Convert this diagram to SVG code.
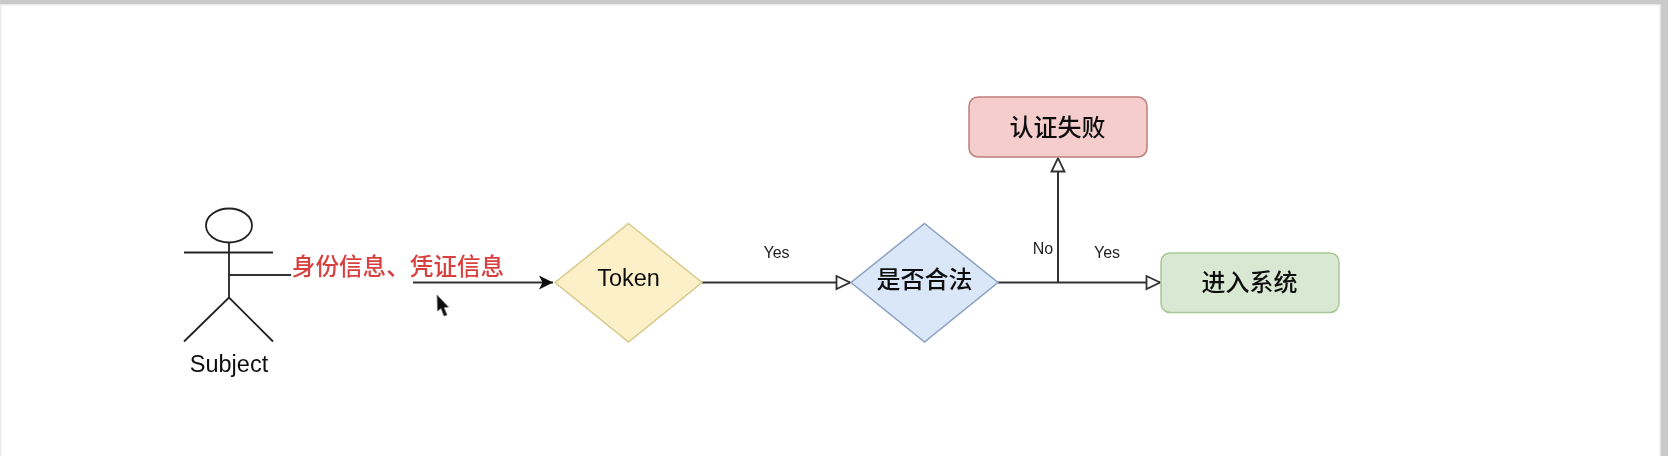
<svg xmlns="http://www.w3.org/2000/svg" width="1668" height="456" viewBox="0 0 1668 456">
  <style>
    text { font-family: "Liberation Sans", "Noto Sans CJK SC", sans-serif; text-anchor: middle; dominant-baseline: central; fill: #111; }
    .cjk { font-family: "Noto Sans CJK SC", "Liberation Sans", sans-serif; font-size: 24px; font-weight: 500; }
    .lbl { font-size: 16px; fill: #222; }
    .edge { fill: none; stroke: #333; stroke-width: 2; }
    .actor { fill: none; stroke: #222; stroke-width: 1.8; }
  </style>
  <defs>
    <filter id="soft" x="-5%" y="-5%" width="110%" height="110%"><feGaussianBlur stdDeviation="0.6"/></filter>
    <marker id="open" markerUnits="userSpaceOnUse" markerWidth="18" markerHeight="18" refX="15" refY="8" orient="auto">
      <path d="M1.500 1.500 L15 8 L1.500 14.500 Z" fill="#fff" stroke="#333" stroke-width="1.800"/>
    </marker>
    <marker id="solid" markerUnits="userSpaceOnUse" markerWidth="18" markerHeight="18" refX="15" refY="9" orient="auto">
      <path d="M1 2 L15 9 L1 16 L4.500 9 Z" fill="#111"/>
    </marker>
  </defs>
  <rect width="1668" height="456" fill="#fff"/>
  <path d="M0 0H1668V456H1661V4.500H0Z" fill="#c9c9c9"/>
  <path d="M0 4.500H1.500V456H0Z" fill="#ececec"/>
  <path d="M0 4.500H1661V5.500H0Z" fill="#ececec"/>
  <path d="M1659.500 5H1661V456H1659.500Z" fill="#e6e6e6"/>
  <g filter="url(#soft)">
    <g id="connectors">
      <path class="edge" d="M413 282.500H553" marker-end="url(#solid)"/>
      <path class="edge" d="M702 282.500H850" marker-end="url(#open)"/>
      <path class="edge" d="M998 282.500H1160" marker-end="url(#open)"/>
      <path class="edge" d="M1058 282.500V158" marker-end="url(#open)"/>
      <path class="edge" d="M229 275H291"/>
      <text class="lbl" x="776.500" y="252.500">Yes</text>
      <text class="lbl" x="1043" y="248">No</text>
      <text class="lbl" x="1107" y="252.500">Yes</text>
    </g>
    <g id="subject">
      <ellipse class="actor" cx="229" cy="225.500" rx="23" ry="17"/>
      <path class="actor" d="M229 242.500V297.500M184 252.500H273M184 341.500L229 297.500L273 341.500"/>
      <text x="229" y="364" font-size="23.500">Subject</text>
    </g>
    <g id="edge-label">
      <text class="cjk" x="398" y="265" style="font-size:23.600px;fill:#d8403f">身份信息、凭证信息</text>
    </g>
    <g id="token">
      <polygon points="628.500,223.500 702,282.500 628.500,342 555,282.500" fill="#fbf0c8" stroke="#d8c98a" stroke-width="1.500"/>
      <text x="628.500" y="278" font-size="23.500">Token</text>
    </g>
    <g id="check">
      <polygon points="924.500,223.500 998,282.500 924.500,342 851,282.500" fill="#dae7f8" stroke="#8aa1c2" stroke-width="1.500"/>
      <text class="cjk" x="924.500" y="277">是否合法</text>
    </g>
    <g id="fail">
      <rect x="969" y="97" width="178" height="60" rx="9" fill="#f4cdcc" stroke="#bf7f7c" stroke-width="1.500"/>
      <text class="cjk" x="1057.500" y="125">认证失败</text>
    </g>
    <g id="enter">
      <rect x="1161" y="253" width="178" height="59.500" rx="9" fill="#d9e8d3" stroke="#a8c797" stroke-width="1.500"/>
      <text class="cjk" x="1249.500" y="280">进入系统</text>
    </g>
    <path id="cursor" d="M437 295L448.500 307L444 307.500L447 315L444 316L441 308.500L437.500 311Z" fill="#111" stroke="#777" stroke-width="0.800"/>
  </g>
</svg>
